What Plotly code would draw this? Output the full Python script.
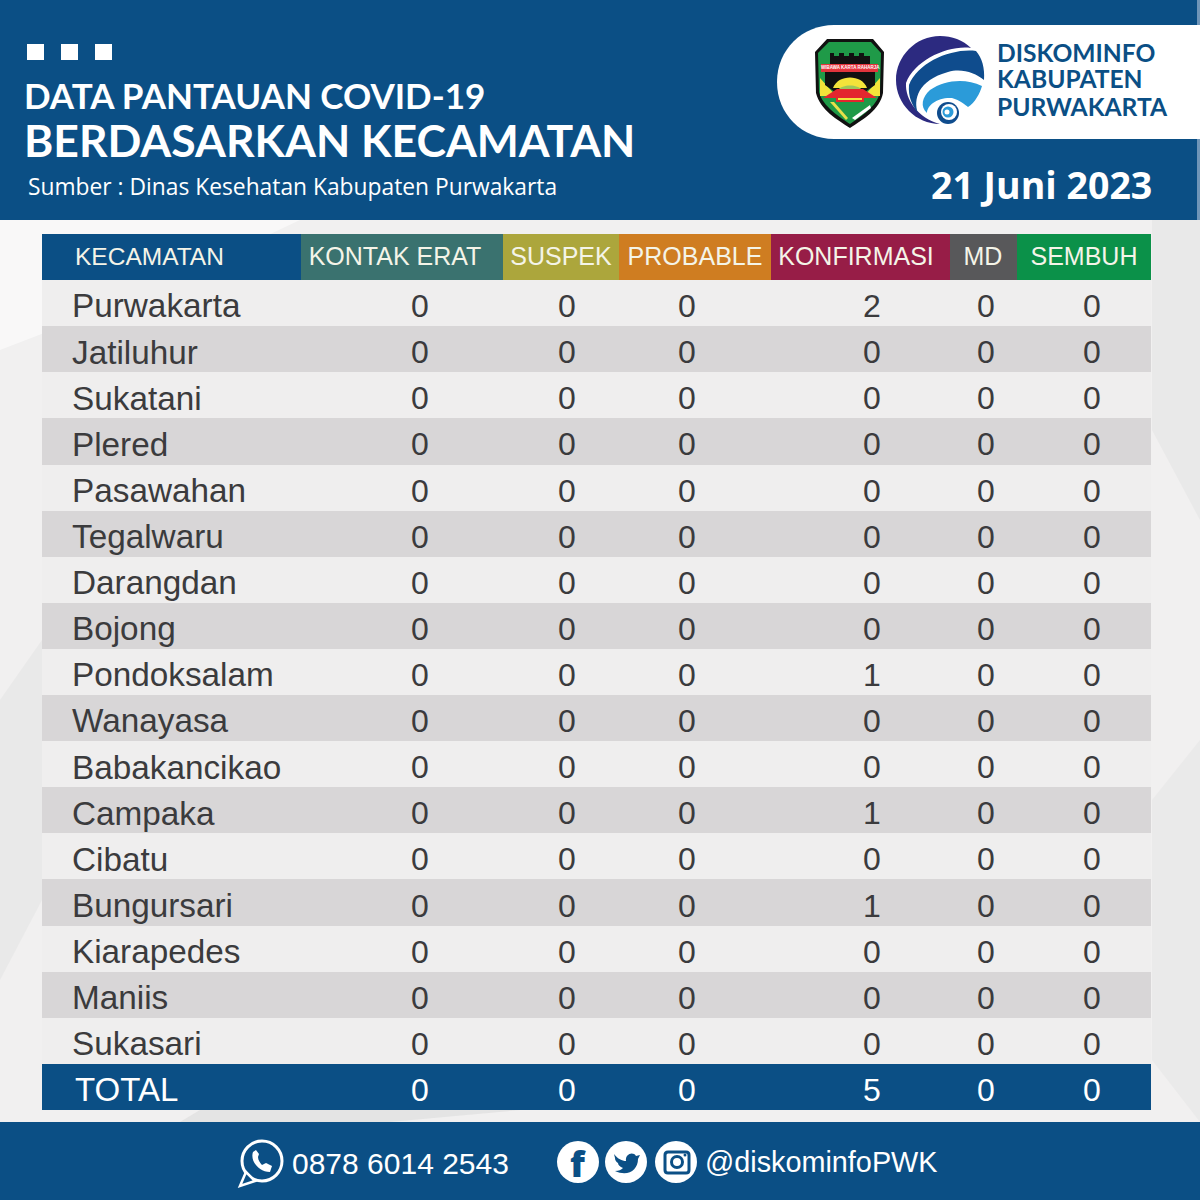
import plotly.graph_objects as go

# --- data ---
kecamatan = ["Purwakarta", "Jatiluhur", "Sukatani", "Plered", "Pasawahan", "Tegalwaru", "Darangdan",
             "Bojong", "Pondoksalam", "Wanayasa", "Babakancikao", "Campaka", "Cibatu", "Bungursari",
             "Kiarapedes", "Maniis", "Sukasari"]
kontak_erat = [0] * 17
suspek = [0] * 17
probable = [0] * 17
konfirmasi = [2, 0, 0, 0, 0, 0, 0, 0, 1, 0, 0, 1, 0, 1, 0, 0, 0]
md = [0] * 17
sembuh = [0] * 17
total = [0, 0, 0, 5, 0, 0]
headers = ["KECAMATAN", "KONTAK ERAT", "SUSPEK", "PROBABLE", "KONFIRMASI", "MD", "SEMBUH"]

# --- layout settings ---
BLUE = "#0b4f85"
NAVY = "#2c2a80"
SKY = "#2b9bd9"
MID = "#0f4c8d"
header_colors = [BLUE, "#3a726f", "#aca63c", "#cf7d21", "#971d47", "#58585a", "#0b9149"]
column_edges = [42, 301, 503, 619, 771, 950, 1017, 1151]
number_x = [420, 567, 687, 872, 986, 1092]
header_x = [75, 395, 561, 695, 856, 983, 1084]
SANS = "Liberation Sans"
TITLE = "Open Sans"
HEAD = "Lato"

rows = ["header"] + kecamatan + ["TOTAL"]
band_colors = ["#efeeee" if i % 2 == 0 else "#d8d6d7" for i in range(len(kecamatan))]


def px(x):
    return x / 1200


def py(y):
    return 1 - y / 1200


def box(x0, y0, x1, y1, color):
    return dict(type="rect", xref="paper", yref="paper", x0=px(x0), x1=px(x1), y0=py(y0), y1=py(y1),
                fillcolor=color, line_width=0, layer="below")


def circle(cx, cy, r, color, line=None, width=0):
    return dict(type="circle", xref="paper", yref="paper", x0=px(cx - r), x1=px(cx + r), y0=py(cy - r), y1=py(cy + r),
                fillcolor=color, line=dict(color=line or color, width=width), layer="above")


def outline(cmds, color, line=None, width=0, layer="above"):
    # cmds is a list like ["M", (x, y), "C", (x, y), (x, y), (x, y), "Z"], given in page pixels
    parts = []
    for c in cmds:
        if isinstance(c, str):
            parts.append(c)
        else:
            parts.append(f"{px(c[0]):.5f},{py(c[1]):.5f}")
    return dict(type="path", xref="paper", yref="paper", path=" ".join(parts), fillcolor=color,
                line=dict(color=line or color, width=width), layer=layer)


def poly(points, color, **kw):
    cmds = ["M", points[0]]
    for p in points[1:]:
        cmds += ["L", p]
    return outline(cmds + ["Z"], color, **kw)


def label(x, y, text, size, family=TITLE, color="white", weight=None, anchor="left"):
    font = dict(size=size, family=family, color=color)
    if weight:
        font["weight"] = weight
    return dict(x=px(x), y=py(y), xref="paper", yref="paper", text=text, showarrow=False,
                xanchor=anchor, yanchor="middle", font=font)


def row_axis(shift):
    # same rows as the bands, moved down a little so the text sits where it does in the picture
    return dict(type="category", categoryorder="array", categoryarray=rows, autorange=False,
                range=[len(rows) - 0.5, -0.5], domain=[1 - (1110 + shift) / 1200, 1 - (234 + shift) / 1200],
                visible=False, fixedrange=True, anchor="x")


fig = go.Figure()

# header cells
fig.add_trace(go.Bar(
    y=["header"] * 7,
    x=[column_edges[i + 1] - column_edges[i] for i in range(7)],
    base=column_edges[:-1],
    orientation="h",
    marker=dict(color=header_colors, line_width=0),
    hoverinfo="skip",
))
# row bands
fig.add_trace(go.Bar(
    y=kecamatan + ["TOTAL"],
    x=[column_edges[-1] - column_edges[0]] * 18,
    base=[column_edges[0]] * 18,
    orientation="h",
    marker=dict(color=band_colors + [BLUE], line_width=0),
    hoverinfo="skip",
))

# header text
for i, h in enumerate(headers):
    fig.add_trace(go.Scatter(
        x=[header_x[i]], y=["header"], mode="text", text=[h], yaxis="y3",
        textposition="middle right" if i == 0 else "middle center",
        textfont=dict(family=SANS, size=24.5 if i == 0 else 25, color="#f4f4e8"),
        hoverinfo="skip",
    ))

# district names and total label
fig.add_trace(go.Scatter(
    x=[72] * 17, y=kecamatan, mode="text", text=kecamatan, textposition="middle right", yaxis="y2",
    textfont=dict(family=SANS, size=33.3, color="#3b3b3d"), hoverinfo="skip",
))
fig.add_trace(go.Scatter(
    x=[75], y=["TOTAL"], mode="text", text=["TOTAL"], textposition="middle right", yaxis="y2",
    textfont=dict(family=SANS, size=33, color="white"), hoverinfo="skip",
))

# numbers, one trace per column
columns = [kontak_erat, suspek, probable, konfirmasi, md, sembuh]
for i, col in enumerate(columns):
    fig.add_trace(go.Scatter(
        x=[number_x[i]] * 18, y=kecamatan + ["TOTAL"], mode="text", yaxis="y2",
        text=[str(v) for v in col] + [str(total[i])],
        textposition="middle center",
        textfont=dict(family=SANS, size=32, color=["#3b3b3d"] * 17 + ["white"]),
        hoverinfo="skip",
    ))

shapes = [
    # faint paper wrinkles behind the table
    poly([(0, 220), (300, 220), (130, 300), (0, 350)], "rgba(255,255,255,0.55)", layer="below"),
    poly([(1152, 220), (1200, 220), (1200, 520), (1152, 430)], "rgba(225,225,225,0.5)", layer="below"),
    poly([(0, 700), (42, 640), (42, 900), (0, 980)], "rgba(225,225,225,0.5)", layer="below"),
    poly([(1152, 800), (1200, 740), (1200, 1122), (1152, 1060)], "rgba(228,228,228,0.5)", layer="below"),
    poly([(200, 1110), (520, 1110), (390, 1122), (180, 1122)], "rgba(222,222,222,0.7)", layer="below"),
    # banners
    box(0, 0, 1200, 220, "#6f95b8"),
    box(0, 0, 1197, 220, BLUE),
    box(0, 1122, 1200, 1200, BLUE),
    box(27, 44, 44, 60, "white"),
    box(61, 44, 78, 60, "white"),
    box(95, 44, 112, 60, "white"),
    # logo pill
    outline(["M", (1200, 25), "L", (834, 25), "C", (802, 25), (777, 50), (777, 82),
             "C", (777, 114), (802, 139), (834, 139), "L", (1200, 139), "Z"], "white"),
    # regency crest
    outline(["M", (827, 39), "L", (873, 39), "L", (884, 52), "L", (883, 93),
             "C", (880, 110), (862, 120), (850, 128), "C", (838, 120), (820, 110), (816, 93), "L", (815, 52), "Z"], "#111111"),
    outline(["M", (829, 42), "L", (871, 42), "L", (881, 53), "L", (880, 92),
             "C", (877, 107), (860, 117), (850, 124), "C", (840, 117), (823, 107), (819, 92), "L", (818, 53), "Z"], "#1f9a48"),
    poly([(820, 78), (836, 96), (820, 96)], "#f3e33a"),
    poly([(880, 78), (864, 96), (880, 96)], "#f3e33a"),
    poly([(830, 53), (834, 53), (834, 56), (839, 56), (839, 53), (844, 53), (844, 56), (849, 56), (849, 53), (854, 53),
          (854, 56), (859, 56), (859, 53), (864, 53), (864, 56), (870, 56), (870, 65), (830, 65)], "#111111"),
    poly([(825, 71), (875, 71), (875, 85), (865, 92), (835, 92), (825, 85)], "#111111"),
    box(821, 64, 878, 72, "#e2343c") | dict(layer="above"),
    outline(["M", (833, 88), "C", (838, 74), (862, 74), (867, 88), "Z"], "#f3e33a"),
    outline(["M", (838, 90), "C", (842, 84), (858, 84), (862, 90), "Z"], "#9fc75a"),
    poly([(837, 89), (863, 89), (877, 98), (823, 98)], "#e3262e"),
    poly([(836, 96), (864, 96), (864, 102), (836, 102)], "#e3262e"),
    poly([(838, 98), (862, 98), (862, 100), (838, 100)], "#f3e33a"),
    poly([(830, 102), (834, 102), (848, 118), (846, 120)], "#e8e04a"),
    poly([(870, 105), (871, 108), (855, 120), (852, 118)], "#ffffff"),
    # ministry swirl
    outline(["M", (940, 124), "C", (916, 124), (896, 104), (896, 80), "C", (896, 56), (916, 36), (940, 36),
             "C", (952, 36), (963, 40), (971, 48), "C", (948, 45), (915, 60), (906, 83),
             "C", (905, 100), (918, 118), (940, 124), "Z"], NAVY),
    outline(["M", (976, 51), "C", (952, 48), (918, 62), (909, 85), "C", (908, 97), (912, 105), (918, 113),
             "C", (913, 100), (918, 80), (948, 72), "C", (962, 68), (975, 73), (984, 80),
             "C", (985, 68), (982, 58), (976, 51), "Z"], MID),
    outline(["M", (982, 86), "C", (965, 78), (945, 80), (930, 90), "C", (922, 97), (920, 107), (927, 113),
             "C", (927, 105), (938, 97), (952, 98), "C", (960, 100), (965, 105), (968, 107),
             "C", (975, 103), (980, 93), (982, 86), "Z"], SKY),
    circle(948, 113, 11, MID),
    circle(949, 112, 8, "white"),
    circle(948, 112, 5.5, SKY),
    circle(947, 112, 2.5, "white"),
    # whatsapp
    circle(262, 1161, 20, "rgba(0,0,0,0)", "white", 3),
    poly([(246, 1172), (240, 1186), (255, 1181)], BLUE, line="white", width=2.5),
    outline(["M", (253, 1152), "C", (250, 1160), (258, 1172), (270, 1172), "L", (272, 1166), "L", (266, 1163),
             "L", (262, 1165), "C", (260, 1163), (258, 1160), (258, 1157), "L", (259, 1154), "L", (256, 1150), "Z"], "white"),
    # social circles
    circle(578, 1162, 21, "white"),
    circle(626, 1162, 21, "white"),
    circle(676, 1162, 21, "white"),
    outline(["M", (614, 1154), "C", (618, 1159), (622, 1161), (626, 1161), "C", (625, 1154), (633, 1151), (636, 1156),
             "L", (640, 1155), "L", (638, 1159), "C", (638, 1170), (628, 1177), (615, 1171),
             "C", (619, 1171), (621, 1170), (623, 1168), "C", (620, 1167), (618, 1165), (618, 1163),
             "C", (616, 1162), (615, 1160), (615, 1158), "Z"], BLUE),
    outline(["M", (668, 1152), "L", (686, 1152), "C", (688, 1152), (689, 1153), (689, 1155), "L", (689, 1170),
             "C", (689, 1172), (688, 1173), (686, 1173), "L", (668, 1173), "C", (666, 1173), (665, 1172), (665, 1170),
             "L", (665, 1155), "C", (665, 1153), (666, 1152), (668, 1152), "Z"], "white", line=BLUE, width=3),
    circle(677, 1162, 5.5, "white", BLUE, 3),
    circle(685, 1155, 1.5, BLUE),
]

annotations = [
    label(22, 95, "DATA PANTAUAN COVID-19", 35, family=HEAD, weight=700),
    label(22, 139, "BERDASARKAN KECAMATAN", 44.5, family=HEAD, weight=700),
    label(26, 186, "Sumber : Dinas Kesehatan Kabupaten Purwakarta", 22.8),
    label(929, 184, "21 Juni 2023", 37.5, weight=700),
    label(995, 52, "DISKOMINFO", 24.6, family=HEAD, color=BLUE, weight=700),
    label(995, 79, "KABUPATEN", 24.6, family=HEAD, color=BLUE, weight=700),
    label(995, 106, "PURWAKARTA", 24.6, family=HEAD, color=BLUE, weight=700),
    label(850, 68, "WIBAWA KARTA RAHARJA", 4.5, family=SANS, weight=700, anchor="center"),
    label(290, 1163, "0878 6014 2543", 30, family=SANS),
    label(703, 1162, "@diskominfoPWK", 28.8, family=SANS),
    label(578, 1163, "f", 36, family=TITLE, color=BLUE, weight=800, anchor="center"),
]

fig.update_layout(
    width=1200,
    height=1200,
    margin=dict(l=0, r=0, t=0, b=0),
    paper_bgcolor="#f1f0f0",
    plot_bgcolor="rgba(0,0,0,0)",
    showlegend=False,
    barmode="overlay",
    bargap=0,
    shapes=shapes,
    annotations=annotations,
    xaxis=dict(range=[0, 1200], domain=[0, 1], visible=False, fixedrange=True),
    yaxis=row_axis(0),
    yaxis2=row_axis(6),
    yaxis3=row_axis(2),
)

fig.write_html("out.html", config={"displayModeBar": False},
               post_script="document.body.style.margin='0';")
